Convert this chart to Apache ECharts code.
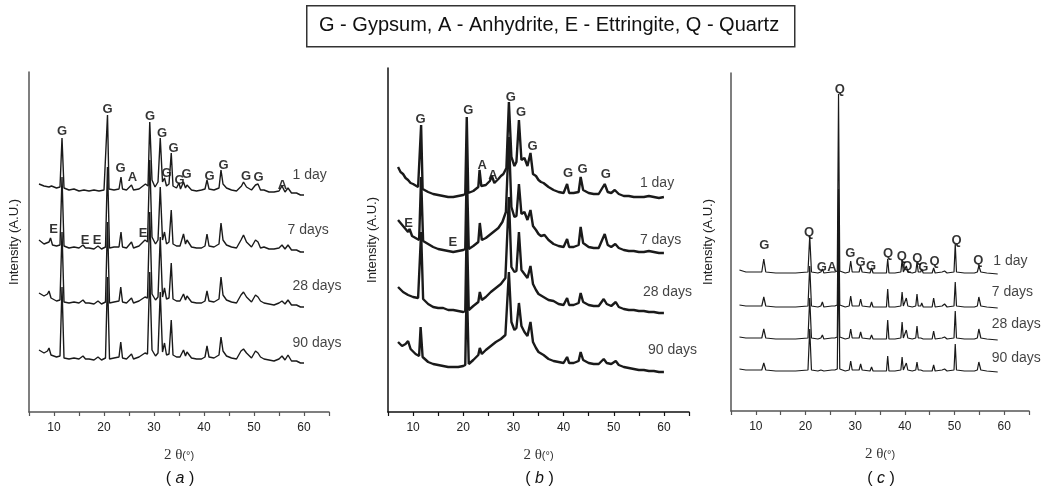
<!DOCTYPE html>
<html>
<head>
<meta charset="utf-8">
<script src="https://cdn.jsdelivr.net/npm/echarts@6/dist/echarts.min.js"></script>
<style>
  html, body { margin: 0; padding: 0; background: #fff; }
  #chart { width: 1047px; height: 487px; }
</style>
</head>
<body>
<div id="chart"></div>
<script>
// XRD patterns, 2θ (deg) vs intensity (A.U., stacked traces)
var ages = ['1 day', '7 days', '28 days', '90 days']

// panel (a)
var a1 = [[7,228],[8,226],[9,225],[9.5,226],[10.5,224],[11.2,225],[11.6,274],[12,224],[13,222],[14,223],[15,221],[16,222],[17,221],[18,222],[19,221],[20,222],[20.4,224],[20.7,297],[21.0,223],[22,222],[23,223],[23.4,235],[23.7,223],[24.5,222],[25.5,227],[25.9,222],[27,223],[28.3,228],[28.8,226],[29.15,290],[29.6,232],[30.2,225],[30.8,230],[31.25,274],[31.7,230],[32.1,234],[32.5,226],[33.0,228],[33.45,259],[33.8,226],[34.5,224],[35.0,229],[35.3,223],[35.9,230],[36.3,224],[36.6,227],[37.5,222],[38.5,221],[39.5,222],[40.2,223],[40.6,232],[41.0,223],[42,222],[43.0,224],[43.4,242],[43.8,228],[44.5,224],[45.5,222],[46.5,221],[47.5,226],[47.9,230],[48.5,225],[49.5,222],[50.3,227],[50.8,228],[51.3,222],[52,222],[53,220],[54,220],[55,221],[55.6,226],[56.2,220],[56.8,224],[57.5,219],[58.5,219],[59.3,217],[60,217]]
var a7 = [[7,172],[8,168],[9,170],[9.3,174],[9.7,167],[10.5,166],[11.2,167],[11.6,235],[12,166],[13,164],[14,165],[15,164],[15.8,167],[16.3,164],[17,164],[18,163],[18.8,166],[19.5,163],[20.3,165],[20.7,245],[21.1,164],[22,165],[23,165],[23.4,180],[23.7,165],[24.5,164],[25.5,170],[25.9,164],[27,166],[28.2,172],[28.7,170],[29.15,252],[29.6,175],[30.3,168],[30.8,172],[31.25,225],[31.7,172],[32.1,180],[32.5,168],[33.0,170],[33.45,202],[33.8,168],[34.5,166],[35.2,166],[35.9,178],[36.3,168],[36.6,172],[37.5,165],[38.5,164],[39.5,164],[40.2,166],[40.6,178],[41.0,166],[42,165],[43.0,168],[43.4,189],[43.8,172],[44.5,167],[45.5,165],[46.5,164],[47.4,172],[47.9,177],[48.5,170],[49.5,165],[50.3,172],[50.8,170],[51.3,164],[52,165],[53,163],[54,163],[55,164],[55.6,167],[56.2,163],[56.8,167],[57.5,162],[58.5,162],[59.3,160],[60,160]]
var a28 = [[7,119],[8,116],[8.7,118],[9.0,121],[9.4,114],[10.5,111],[11.2,112],[11.6,180],[12,110],[13,109],[14,110],[15,109],[15.8,112],[16.3,109],[17,109],[18,108],[18.8,111],[19.5,108],[20.3,110],[20.7,190],[21.1,109],[22,110],[23,111],[23.35,125],[23.7,110],[24.5,109],[25.5,114],[25.9,109],[27,111],[28.2,115],[28.7,114],[29.15,200],[29.6,118],[30.3,112],[30.8,115],[31.25,175],[31.7,115],[32.1,124],[32.5,113],[33.0,114],[33.45,149],[33.8,113],[34.5,111],[35.2,111],[35.9,118],[36.3,112],[36.6,116],[37.5,110],[38.5,109],[39.5,109],[40.2,111],[40.6,121],[41.0,111],[42,110],[43.0,113],[43.4,135],[43.8,117],[44.5,112],[45.5,110],[46.5,109],[47.4,117],[47.9,120],[48.5,115],[49.5,110],[50.3,117],[50.8,115],[51.3,111],[52,109],[53,108],[54,107],[55,109],[55.6,111],[56.2,108],[56.8,112],[57.5,107],[58.5,107],[59.3,105],[60,105]]
var a90 = [[7,62],[8,59],[8.7,61],[9.0,64],[9.4,57],[10.5,55],[11.2,56],[11.6,125],[12,54],[13,53],[14,54],[15,53],[15.8,56],[16.3,53],[17,53],[18,52],[18.8,55],[19.5,52],[20.3,54],[20.7,135],[21.1,53],[22,54],[23,55],[23.35,70],[23.7,54],[24.5,53],[25.5,58],[25.9,53],[27,55],[28.2,59],[28.7,58],[29.15,140],[29.6,62],[30.3,56],[30.8,59],[31.25,120],[31.7,60],[32.1,69],[32.5,57],[33.0,58],[33.45,92],[33.8,57],[34.5,55],[35.2,55],[35.9,62],[36.3,56],[36.6,60],[37.5,54],[38.5,53],[39.5,53],[40.2,55],[40.6,66],[41.0,55],[42,54],[43.0,57],[43.4,75],[43.8,61],[44.5,56],[45.5,54],[46.5,53],[47.4,61],[47.9,63],[48.5,59],[49.5,54],[50.3,61],[50.8,59],[51.3,55],[52,53],[53,52],[54,51],[55,53],[55.6,56],[56.2,52],[56.8,57],[57.5,51],[58.5,51],[59.3,49],[60,49]]

// panel (b)
var b1 = [[7,245],[7.5,240],[8,238],[8.5,234],[9,232],[9.5,229],[10,228],[11,225],[11.3,224],[11.6,287],[11.9,223],[13,220],[14,218],[15,217],[16,216],[17,215],[18,215],[19,216],[20,217],[20.4,218],[20.7,295],[21.0,219],[22,221],[23,225],[23.25,242],[23.6,226],[24.5,227],[25.3,231],[25.7,236],[26.2,229],[27,233],[27.5,236],[28,238],[28.6,244],[29.1,310],[29.6,255],[30.2,246],[30.6,250],[31.1,292],[31.6,252],[32.2,254],[32.8,246],[33.4,259],[33.9,238],[34.5,236],[35,232],[35.5,230],[36,229],[37,225],[38,222],[39,220],[40,219],[40.7,228],[41.1,219],[42,219],[43,220],[43.4,235],[43.9,222],[45,219],[46,218],[47,218],[48.2,228],[48.8,220],[49.5,219],[50.2,222],[51,218],[52,216],[53,216],[54,215],[55,215],[56,215],[57,216],[58,215],[59,214],[60,215]]
var b7 = [[7,192],[8,186],[9,180],[9.3,183],[9.8,176],[10.5,174],[11.2,172],[11.6,235],[12,171],[13,168],[14,165],[15,163],[16,162],[17,161],[18,160],[19,161],[20,162],[20.4,163],[20.7,245],[21.1,163],[22,166],[23,170],[23.3,189],[23.7,172],[24.5,174],[25.5,178],[26,180],[27,184],[27.8,190],[28.5,200],[29.1,275],[29.6,205],[30.2,195],[30.6,196],[31.1,228],[31.6,198],[32.2,200],[32.8,192],[33.4,202],[33.9,186],[34.5,182],[35,178],[35.5,176],[36.2,177],[37,172],[38,168],[39,166],[40,165],[40.7,173],[41.1,165],[42,165],[43,167],[43.4,185],[43.9,169],[45,165],[46,164],[47,164],[48.2,178],[48.8,167],[49.5,165],[50.3,168],[51,164],[52,162],[53,161],[54,161],[55,160],[56,160],[57,161],[58,160],[59,159],[60,159]]
var b28 = [[7,125],[8,120],[9,117],[10,115],[11,114],[11.6,180],[12,113],[13,108],[14,105],[15,104],[16,104],[17,102],[18,102],[19,101],[20,100],[20.4,101],[20.7,190],[21.1,102],[22,106],[23,110],[23.3,120],[23.7,112],[24.5,115],[25.5,120],[26.5,124],[27.5,128],[28.4,134],[29.1,215],[29.6,145],[30.2,140],[30.6,141],[31.1,180],[31.6,142],[32.2,138],[32.8,134],[33.4,146],[33.9,128],[34.5,122],[35,118],[36,115],[37,112],[38,111],[39,108],[40,107],[40.7,114],[41.1,107],[42,107],[43,109],[43.4,119],[43.9,110],[45,107],[46,106],[47,106],[48,113],[48.6,108],[49.5,106],[50.4,110],[51,105],[52,103],[53,102],[54,102],[55,101],[56,101],[57,100],[58,100],[59,99],[60,99]]
var b90 = [[7,70],[7.8,66],[8.5,68],[9,71],[9.5,63],[10.5,58],[11.2,56],[11.5,85],[11.9,55],[13,50],[14,48],[15,47],[16,46],[17,45],[18,45],[19,45],[20,46],[20.4,47],[20.7,130],[21.1,48],[22,52],[23,57],[23.3,64],[23.7,58],[24.5,62],[25.5,66],[26.5,70],[27.5,73],[28.4,77],[29.1,140],[29.6,90],[30.2,82],[30.6,84],[31.1,109],[31.6,86],[32.2,80],[32.8,76],[33.4,90],[33.9,70],[34.5,64],[35,60],[36,57],[37,53],[38,51],[39,50],[40,49],[40.7,55],[41.1,49],[42,49],[43,51],[43.4,60],[43.9,52],[45,49],[46,48],[47,48],[48,53],[48.6,49],[49.5,48],[50.4,51],[51,47],[52,45],[53,44],[54,43],[55,42],[56,42],[57,41],[58,41],[59,40],[60,40]]

// panel (c)
var c1 = [[6.7,141],[8,139],[9.5,139],[11.2,139],[11.6,152],[12,139],[14,138],[16,138],[18,138],[20.5,139],[20.85,175],[21.2,139],[22.5,138],[23.1,139],[23.4,142],[23.7,138],[25.3,139],[25.6,141],[25.9,139],[26.4,140],[26.65,317],[26.9,140],[28,138],[28.8,139],[29.1,150],[29.4,139],[30.8,139],[31.1,145],[31.4,139],[33.0,138],[33.3,143],[33.6,138],[35,138],[36.3,138],[36.55,152],[36.8,138],[38,138],[39.2,139],[39.45,151],[39.7,139],[40.1,139],[40.3,145],[40.6,139],[41.5,138],[42.2,139],[42.45,149],[42.7,139],[43.2,139],[43.4,142],[43.7,138],[45.5,138],[45.8,143],[46.1,138],[47.5,139],[48,140],[48.5,138],[49.9,139],[50.15,167],[50.4,139],[52,138],[54,138],[54.6,139],[54.9,145],[55.3,139],[56.5,138],[58.7,137]]
var c7 = [[6.7,106],[8,105],[9.5,105],[11.2,105],[11.6,114],[12,105],[14,104],[16,104],[18,104],[20.5,105],[20.85,145],[21.2,105],[22.5,104],[23.1,105],[23.4,109],[23.7,104],[25.3,105],[25.6,106],[25.9,105],[26.4,106],[26.65,222],[26.9,106],[28,104],[28.8,105],[29.1,115],[29.4,105],[30.8,105],[31.1,112],[31.4,105],[33.0,104],[33.3,109],[33.6,104],[35,104],[36.3,104],[36.55,122],[36.8,104],[38,104],[39.2,105],[39.45,119],[39.7,105],[40.1,105],[40.3,113],[40.6,105],[41.5,104],[42.2,105],[42.45,117],[42.7,105],[43.2,105],[43.4,108],[43.7,104],[45.5,104],[45.8,113],[46.1,104],[47.5,105],[48,107],[48.5,104],[49.9,105],[50.15,129],[50.4,105],[52,104],[54,104],[54.6,105],[54.9,114],[55.3,105],[56.5,104],[58.7,103]]
var c28 = [[6.7,74],[8,73],[9.5,73],[11.2,73],[11.6,82],[12,73],[14,72],[16,72],[18,72],[20.5,73],[20.85,113],[21.2,73],[22.5,72],[23.1,73],[23.4,76],[23.7,72],[25.3,73],[25.6,74],[25.9,73],[26.4,74],[26.65,190],[26.9,74],[28,72],[28.8,73],[29.1,82],[29.4,73],[30.8,73],[31.1,79],[31.4,73],[33.0,72],[33.3,76],[33.6,72],[35,72],[36.3,72],[36.55,91],[36.8,72],[38,72],[39.2,73],[39.45,89],[39.7,73],[40.1,73],[40.3,81],[40.6,73],[41.5,72],[42.2,73],[42.45,85],[42.7,73],[43.2,73],[43.4,75],[43.7,72],[45.5,72],[45.8,80],[46.1,72],[47.5,73],[48,74],[48.5,72],[49.9,73],[50.15,100],[50.4,73],[52,72],[54,72],[54.6,73],[54.9,82],[55.3,73],[56.5,72],[58.7,71]]
var c90 = [[6.7,42],[8,41],[9.5,41],[11.2,41],[11.6,48],[12,41],[14,40],[16,40],[18,40],[20.5,41],[20.85,82],[21.2,41],[22.5,40],[23.1,41],[23.4,43],[23.7,40],[25.3,41],[25.6,42],[25.9,41],[26.4,42],[26.65,158],[26.9,42],[28,40],[28.8,41],[29.1,50],[29.4,41],[30.8,41],[31.1,47],[31.4,41],[33.0,40],[33.3,44],[33.6,40],[35,40],[36.3,40],[36.55,55],[36.8,40],[38,40],[39.2,41],[39.45,54],[39.7,41],[40.1,41],[40.3,48],[40.6,41],[41.5,40],[42.2,41],[42.45,49],[42.7,41],[43.2,41],[43.4,43],[43.7,40],[45.5,40],[45.8,46],[46.1,40],[47.5,41],[48,42],[48.5,40],[49.9,41],[50.15,67],[50.4,41],[52,40],[54,40],[54.6,41],[54.9,49],[55.3,41],[56.5,40],[58.7,39]]

// phase marks [2θ, height, letter]
var peaksA = [[11.6,281,'G'],[20.7,303,'G'],[23.3,244,'G'],[25.7,235,'A'],[29.2,296,'G'],[31.6,279,'G'],[33.9,264,'G'],[32.5,239,'G'],[35.1,232,'G'],[36.5,238,'G'],[41.1,236,'G'],[43.9,247,'G'],[48.4,236,'G'],[50.9,235,'G'],[55.7,227,'A'],
  [9.9,183,'E'],[16.2,172,'E'],[18.6,172,'E'],[27.8,179,'E']]
var peaksB = [[11.5,293,'G'],[21.0,302,'G'],[23.8,247,'A'],[25.9,237,'A'],[29.5,315,'G'],[31.5,300,'G'],[33.8,266,'G'],[40.9,239,'G'],[43.8,243,'G'],[48.4,238,'G'],
  [9.1,189,'E'],[17.9,170,'E']]
var peaksC = [[11.7,166,'G'],[20.7,179,'Q'],[23.3,144,'G'],[25.3,144,'A'],[26.9,322,'Q'],[29.0,158,'G'],[31.1,149,'G'],[33.2,145,'G'],[36.6,158,'Q'],[39.4,155,'Q'],[40.5,145,'Q'],[42.5,153,'Q'],[43.7,144,'G'],[46.0,150,'Q'],[50.4,171,'Q'],[54.8,151,'Q']]

// trace names placed at [2θ, height]
var agePosA = [[57.7,237],[56.7,182],[57.7,126],[57.7,69]]
var agePosB = [[55.2,229],[55.2,172],[55.8,120],[56.8,62]]
var agePosC = [[57.8,150],[57.5,119],[57.5,87],[57.5,53]]

var panels = [
  { tag: 'a', left: 29, top: 72, width: 300, height: 340, traces: [a1, a7, a28, a90], peaks: peaksA, agePos: agePosA, lw: 1.4, axis: '#555', gap: 8 },
  { tag: 'b', left: 388, top: 68, width: 301, height: 344, traces: [b1, b7, b28, b90], peaks: peaksB, agePos: agePosB, lw: 2.4, axis: '#111', gap: 9 },
  { tag: 'c', left: 731, top: 73, width: 298, height: 338, traces: [c1, c7, c28, c90], peaks: peaksC, agePos: agePosC, lw: 1.2, axis: '#555', gap: 16 }
]

var chart = echarts.init(document.getElementById('chart'))
var grids = []
var xAxes = []
var yAxes = []
var series = []
var titles = []

panels.forEach(function(p, i) {
  grids.push({ left: p.left, top: p.top, width: p.width, height: p.height })
  xAxes.push({
    gridIndex: i, type: 'value', min: 5, max: 65, interval: 5,
    name: '{t|2 θ}{u|(°)}',
    nameLocation: 'middle', nameGap: 36,
    nameTextStyle: { rich: {
      t: { fontFamily: 'Liberation Serif', fontSize: 15, color: '#333' },
      u: { fontFamily: 'Liberation Sans', fontSize: 11, color: '#333' }
    } },
    axisLine: { lineStyle: { color: p.axis, width: 1.5 } },
    axisTick: { length: 4, lineStyle: { color: p.axis, width: 1.2 } },
    axisLabel: {
      margin: 10, color: '#222', fontFamily: 'Liberation Sans', fontSize: 12,
      formatter: function(v) { return (v % 10 === 0 && v >= 10 && v <= 60) ? String(v) : '' }
    },
    splitLine: { show: false }
  })
  yAxes.push({
    gridIndex: i, type: 'value', min: 0, max: p.height,
    name: 'Intensity (A.U.)', nameLocation: 'middle', nameGap: p.gap,
    nameTextStyle: { fontFamily: 'Liberation Sans', fontSize: 13, color: '#222' },
    axisLine: { show: true, lineStyle: { color: p.axis, width: 1.5 } },
    axisTick: { show: false }, axisLabel: { show: false }, splitLine: { show: false }
  })
  p.traces.forEach(function(d) {
    series.push({
      type: 'line', xAxisIndex: i, yAxisIndex: i, data: d, showSymbol: false,
      lineStyle: { color: '#1a1a1a', width: p.lw }, silent: true
    })
  })
  series.push({
    type: 'scatter', xAxisIndex: i, yAxisIndex: i, symbolSize: 0.1,
    itemStyle: { color: '#000' }, silent: true,
    data: p.peaks,
    label: {
      show: true, position: 'inside', color: '#000',
      fontFamily: 'Liberation Sans', fontWeight: 'bold', fontSize: 13,
      formatter: function(pr) { return pr.value[2] }
    }
  })
  series.push({
    type: 'scatter', xAxisIndex: i, yAxisIndex: i, symbolSize: 0.1,
    itemStyle: { color: '#000' }, silent: true,
    data: p.agePos.map(function(pt, k) { return [pt[0], pt[1], ages[k]] }),
    label: {
      show: true, position: 'right', distance: 0, color: '#111',
      fontFamily: 'Liberation Sans', fontSize: 14,
      formatter: function(pr) { return pr.value[2] }
    }
  })
  titles.push({
    text: '( {i|' + p.tag + '} )', left: p.left + p.width / 2 - 4, top: 466, textAlign: 'center',
    textStyle: { fontFamily: 'Liberation Sans', fontSize: 16, fontWeight: 'normal', color: '#111',
      rich: { i: { fontFamily: 'Liberation Sans', fontSize: 16, fontStyle: 'italic', color: '#111' } } }
  })
})

chart.setOption({
  animation: false,
  backgroundColor: '#fff',
  title: titles,
  grid: grids,
  xAxis: xAxes,
  yAxis: yAxes,
  series: series,
  graphic: [
    { type: 'rect', left: 306, top: 5, shape: { width: 488, height: 41 },
      style: { fill: '#fff', stroke: '#333', lineWidth: 1.5 } },
    { type: 'text', left: 319, top: 15,
      style: { text: 'G - Gypsum, A - Anhydrite, E - Ettringite, Q - Quartz',
        font: '20px "Liberation Sans"', fill: '#111' } }
  ]
})
</script>
</body>
</html>
